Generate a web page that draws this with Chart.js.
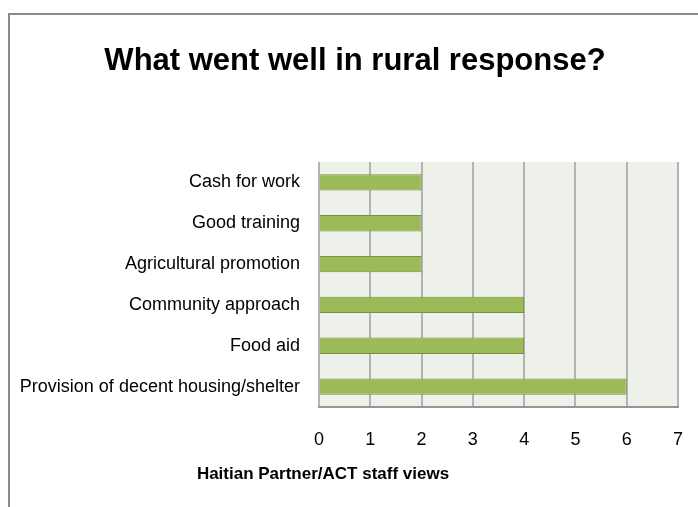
<!DOCTYPE html>
<html>
<head>
<meta charset="utf-8">
<script src="https://cdn.jsdelivr.net/npm/chart.js@4.4.1/dist/chart.umd.min.js"></script>
<style>
    html, body { margin: 0; padding: 0; background: #fff; }
    #wrap { position: relative; width: 698px; height: 507px; overflow: hidden; }
    #frame { position: absolute; left: 8px; top: 13px; width: 800px; height: 600px; border: 2px solid #8a8a8a; }
    #chart { position: absolute; left: 0; top: 0; }
</style>
</head>
<body>
<div id="wrap">
    <div id="frame"></div>
    <canvas id="chart" width="698" height="507"></canvas>
</div>
<script>
const FONT = "'Liberation Sans Narrow', 'Liberation Sans', sans-serif";

const categories = [
    'Cash for work',
    'Good training',
    'Agricultural promotion',
    'Community approach',
    'Food aid',
    'Provision of decent housing/shelter'
];
const staffViews = [2, 2, 2, 4, 4, 6];
const xTicks = [0, 1, 2, 3, 4, 5, 6, 7];
const chartTitle = 'What went well in rural response?';
const xTitle = 'Haitian Partner/ACT staff views';

// light plot background, heading and x axis caption
const decor = {
    id: 'decor',
    beforeDraw(chart) {
        const {ctx, chartArea: a} = chart;
        ctx.save();
        ctx.fillStyle = '#eef1e9';
        ctx.fillRect(a.left, a.top, a.right - a.left, a.bottom - a.top);
        ctx.restore();
    },
    afterDraw(chart) {
        const ctx = chart.ctx;
        ctx.save();
        ctx.fillStyle = '#000';
        ctx.textAlign = 'center';
        ctx.textBaseline = 'alphabetic';
        ctx.font = 'bold 31px ' + FONT;
        ctx.fillText(chartTitle, 355, 70);
        ctx.font = 'bold 17px ' + FONT;
        ctx.fillText(xTitle, 323, 479);
        ctx.restore();
    }
};

new Chart(document.getElementById('chart'), {
    type: 'bar',
    data: {
        labels: categories,
        datasets: [{
            data: staffViews,
            backgroundColor: '#9bbb59',
            borderColor: '#76923c',
            borderWidth: 1,
            barPercentage: 0.4,
            categoryPercentage: 1
        }]
    },
    options: {
        indexAxis: 'y',
        responsive: false,
        animation: false,
        layout: { padding: { left: 0, right: 20, top: 162, bottom: 0 } },
        scales: {
            x: {
                min: 0,
                max: 7,
                afterBuildTicks: (s) => { s.ticks = xTicks.map(v => ({ value: v })); },
                afterFit: (s) => { s.height = 100; s.paddingLeft = 0; s.paddingRight = 0; },
                grid: { color: '#b3b3b3', lineWidth: 2, drawTicks: false },
                border: { color: '#959595', width: 2 },
                ticks: { color: '#000', padding: 22, font: { family: FONT, size: 18 } }
            },
            y: {
                afterFit: (s) => { s.width = 319; },
                grid: { display: false, drawTicks: false },
                border: { display: false },
                ticks: { color: '#000', padding: 19, font: { family: FONT, size: 18 } }
            }
        },
        plugins: {
            legend: { display: false },
            tooltip: { enabled: false },
            title: { display: false }
        }
    },
    plugins: [decor]
});
</script>
</body>
</html>
